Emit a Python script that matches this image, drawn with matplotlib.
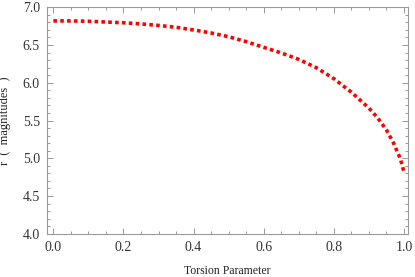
import matplotlib
matplotlib.use("Agg")
import matplotlib.pyplot as plt
from matplotlib.ticker import MultipleLocator, FormatStrFormatter

torsion = [0.0, 0.05, 0.1, 0.15, 0.2, 0.25, 0.3, 0.35, 0.4, 0.45, 0.5, 0.55, 0.6, 0.65,
           0.7, 0.75, 0.8, 0.85, 0.9, 0.925, 0.95, 0.97, 0.99, 1.0]
r_mag = [6.82, 6.82, 6.815, 6.805, 6.795, 6.78, 6.76, 6.735, 6.70, 6.66, 6.61, 6.545, 6.47, 6.395,
         6.31, 6.20, 6.055, 5.875, 5.665, 5.535, 5.375, 5.205, 4.99, 4.82]

plt.rcParams['font.family'] = ['Liberation Serif', 'DejaVu Serif']

fig = plt.figure(figsize=(4.15, 2.77), dpi=100)
ax = fig.add_axes([46.7/415, 1-233.7/277, (408.3-46.7)/415, (233.7-7.3)/277])

ax.plot(torsion, r_mag, color='#ff0000', linewidth=2.6, linestyle=(0, (1.0, 0.9)),
        solid_capstyle='butt', dash_capstyle='butt')

ax.set_xlim(-0.019, 1.0125)
ax.set_ylim(4.0, 7.0)
ax.xaxis.set_major_locator(MultipleLocator(0.2))
ax.xaxis.set_minor_locator(MultipleLocator(0.05))
ax.yaxis.set_major_locator(MultipleLocator(0.5))
ax.yaxis.set_minor_locator(MultipleLocator(0.1))
ax.xaxis.set_major_formatter(FormatStrFormatter('%.1f'))
ax.yaxis.set_major_formatter(FormatStrFormatter('%.1f'))

tc = '#999999'
for s in ax.spines.values():
    s.set_color(tc)
    s.set_linewidth(0.8)
ax.tick_params(which='both', direction='in', top=True, right=True, color=tc,
               labelsize=10, labelcolor='#333333', width=0.7)
ax.tick_params(which='major', length=4.5, pad=5)
ax.tick_params(which='minor', length=2.5)

ax.set_xlabel('Torsion Parameter', fontsize=8.5, color='#222222', labelpad=8)
ax.set_ylabel('r  (  magnitudes  )', fontsize=9, color='#222222', labelpad=8)

fig.savefig('out.png', dpi=100)
